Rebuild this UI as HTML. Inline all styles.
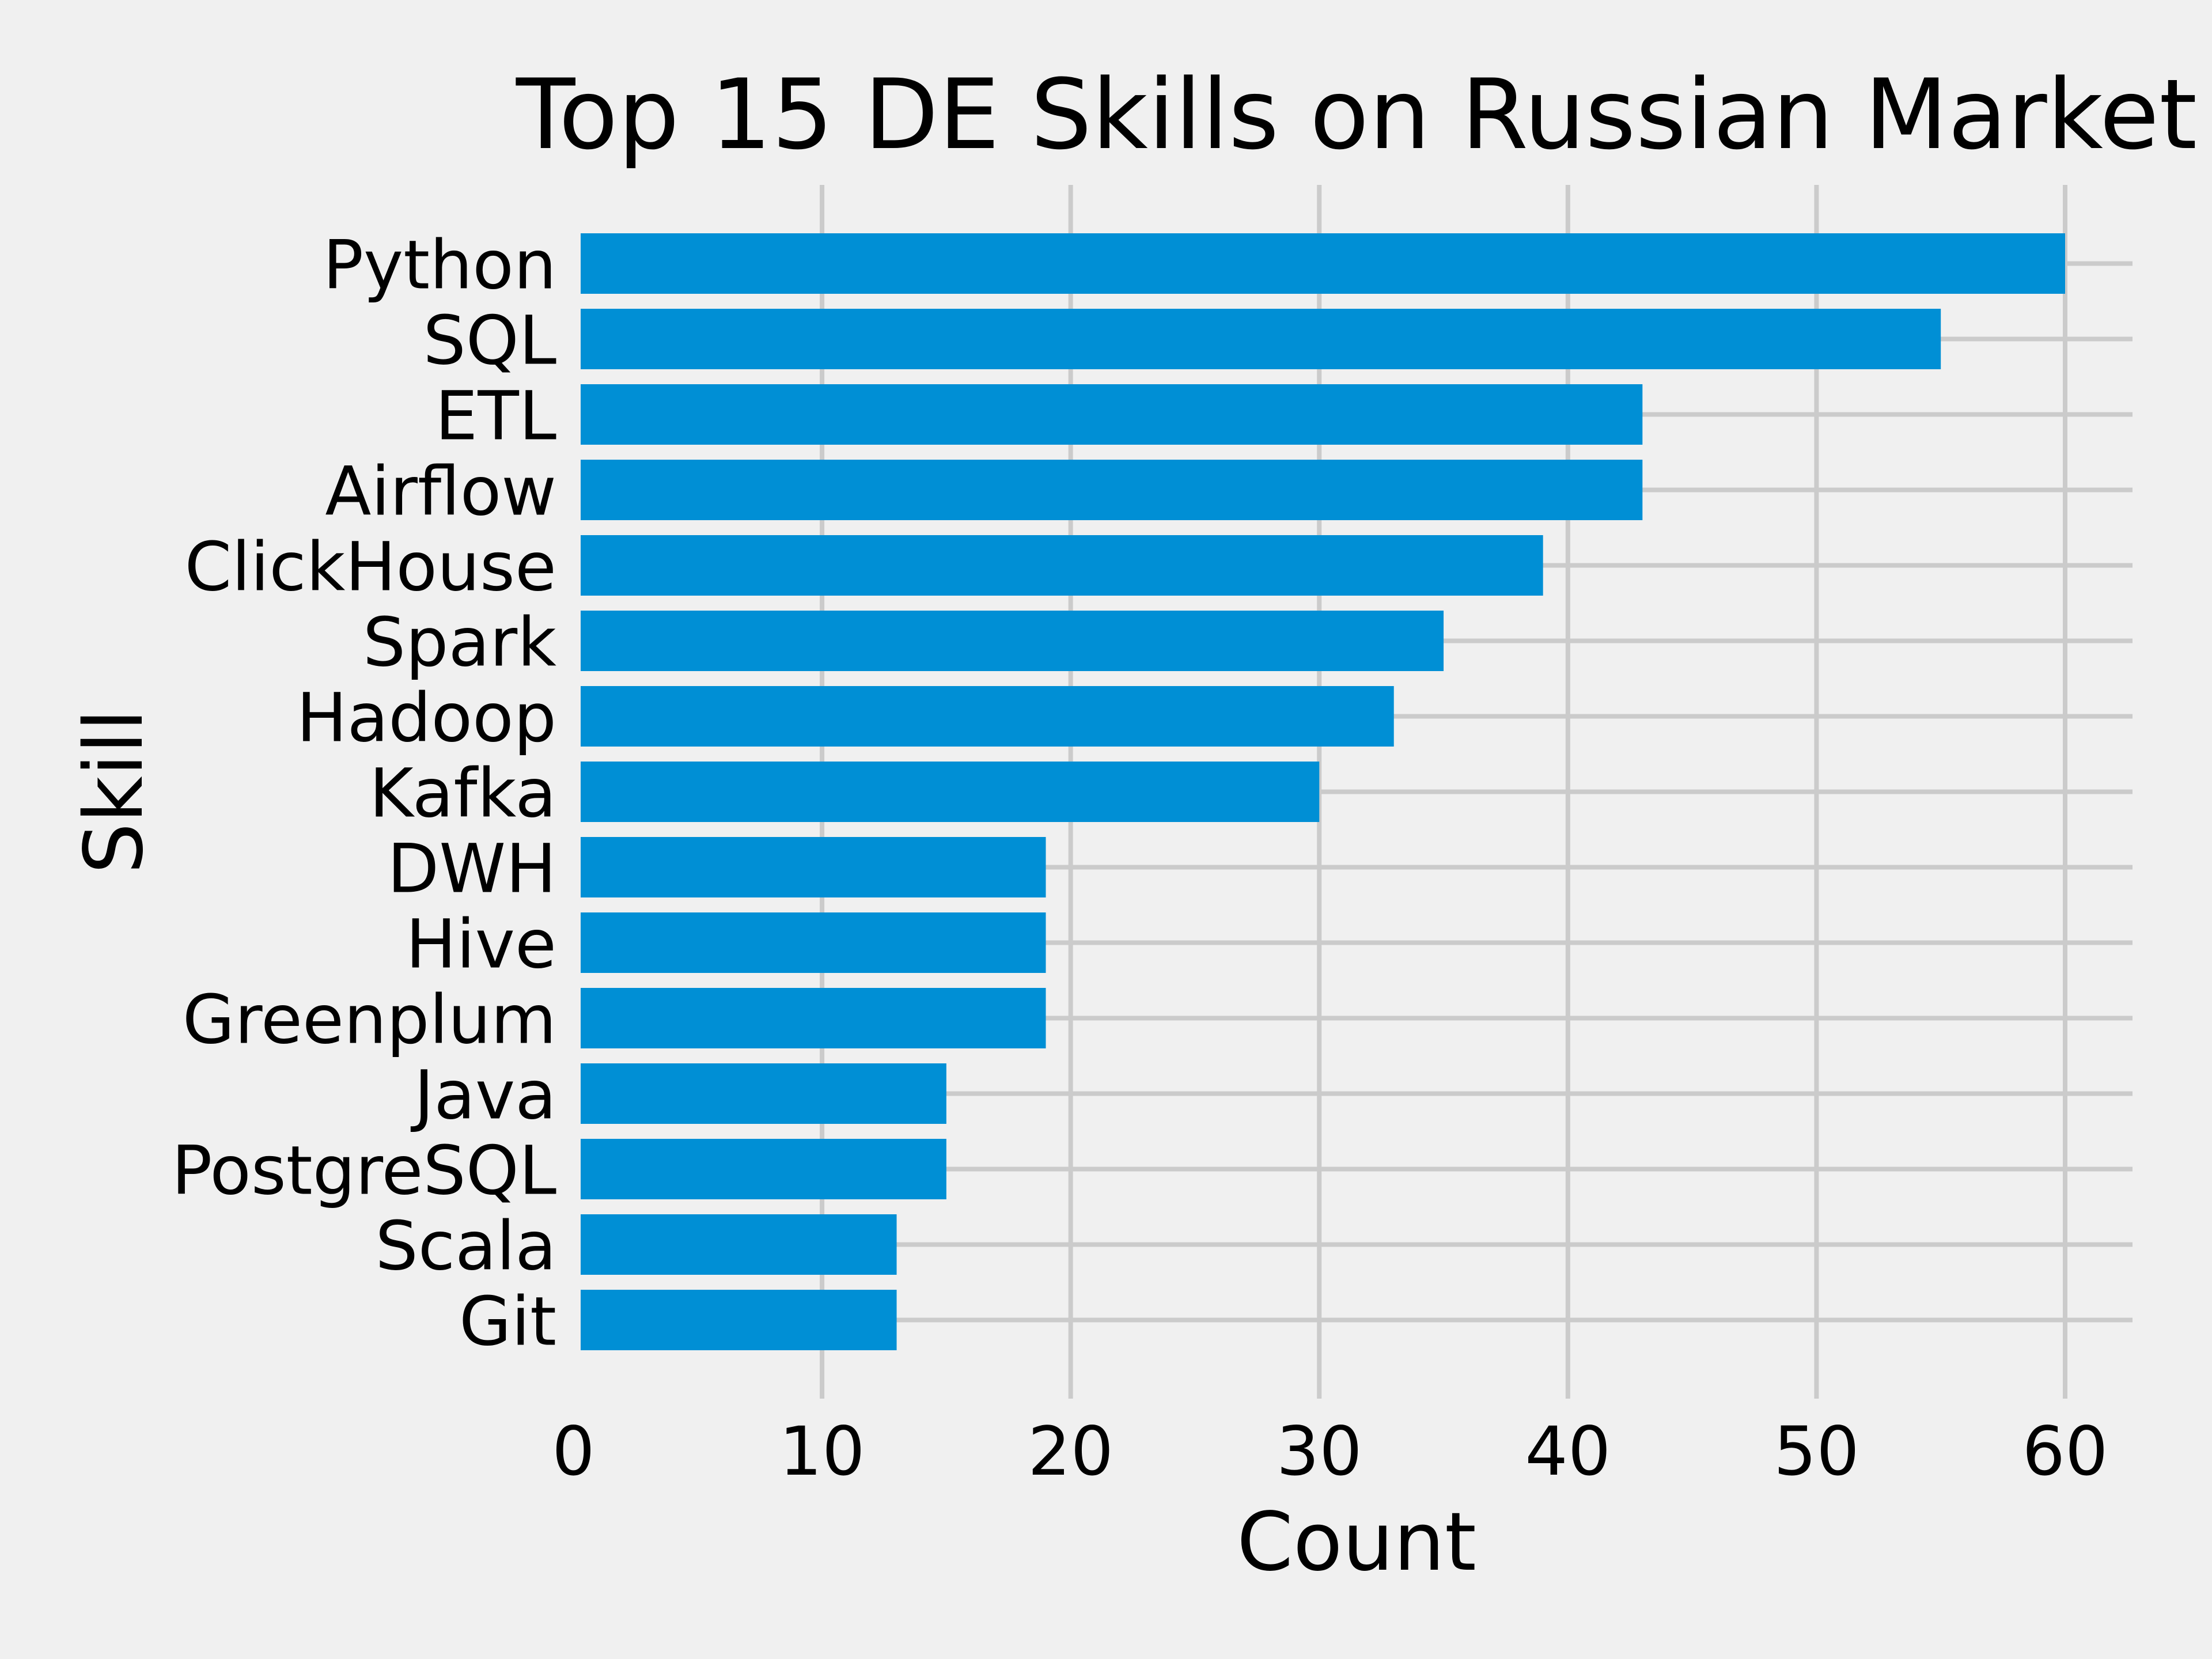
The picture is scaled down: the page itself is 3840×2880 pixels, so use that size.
<!DOCTYPE html>
<html><head><meta charset="utf-8"><style>
html,body{margin:0;padding:0;background:#f0f0f0;}
svg{display:block;font-family:"DejaVu Sans","Liberation Sans",sans-serif;}
</style></head><body>
<svg id="chart" width="3840" height="2880" viewBox="0 0 3840 2880" xmlns="http://www.w3.org/2000/svg">
<defs><clipPath id="plotclip"><rect x="1008" y="0" width="2800" height="2880"/></clipPath></defs>
<rect x="0" y="0" width="3840" height="2880" fill="#f0f0f0"/>
<g id="grid" clip-path="url(#plotclip)"></g>
<g id="bars" clip-path="url(#plotclip)"></g>
<g id="labels"></g>
<text x="2355" y="257" font-size="168" text-anchor="middle" fill="#000">Top 15 DE Skills on Russian Market</text>
<text x="2355" y="2725" font-size="140" text-anchor="middle" fill="#000">Count</text>
<text transform="translate(246,1374) rotate(-90)" font-size="140" text-anchor="middle" fill="#000">Skill</text>
</svg>
<script>
const skills = ["Python","SQL","ETL","Airflow","ClickHouse","Spark","Hadoop","Kafka","DWH","Hive","Greenplum","Java","PostgreSQL","Scala","Git"];
const counts = [60,55,43,43,39,35,33,30,19,19,19,15,15,13,13];
const xTicks = [0,10,20,30,40,50,60];

const NS="http://www.w3.org/2000/svg";
const x0=995.5, xPerUnit=(3585-995.5)/60, xLeft=1008, xRight=3702, yTop=321, yBot=2428;
const firstCenter=457.5, step=131, barH=105;
const xs=v=>x0+v*xPerUnit;
const ys=i=>firstCenter+i*step;
function mk(tag,attrs,parent){const e=document.createElementNS(NS,tag);for(const k in attrs)e.setAttribute(k,attrs[k]);parent.appendChild(e);return e;}
const grid=document.getElementById('grid'), bars=document.getElementById('bars'), labels=document.getElementById('labels');
xTicks.forEach(t=>{
  const l=mk('line',{x1:xs(t),x2:xs(t),y1:yTop,y2:yBot,stroke:'#cbcbcb','stroke-width':8},grid);
  
  
  const tx=mk('text',{x:xs(t),y:2560,'font-size':117,'text-anchor':'middle',fill:'#000'},labels);
  tx.textContent=t;
  
  
});
skills.forEach((s,i)=>{
  const l=mk('line',{x1:xLeft,x2:xRight,y1:ys(i),y2:ys(i),stroke:'#cbcbcb','stroke-width':8},grid);
  
  
  const r=mk('rect',{x:xs(0),y:ys(i)-barH/2,width:xs(counts[i])-xs(0),height:barH,fill:'#008fd5'},bars);
  
  
  const tx=mk('text',{x:966,y:ys(i)+43,'font-size':117,'text-anchor':'end',fill:'#000'},labels);
  tx.textContent=s;
  
  
});
</script>
</body></html>
